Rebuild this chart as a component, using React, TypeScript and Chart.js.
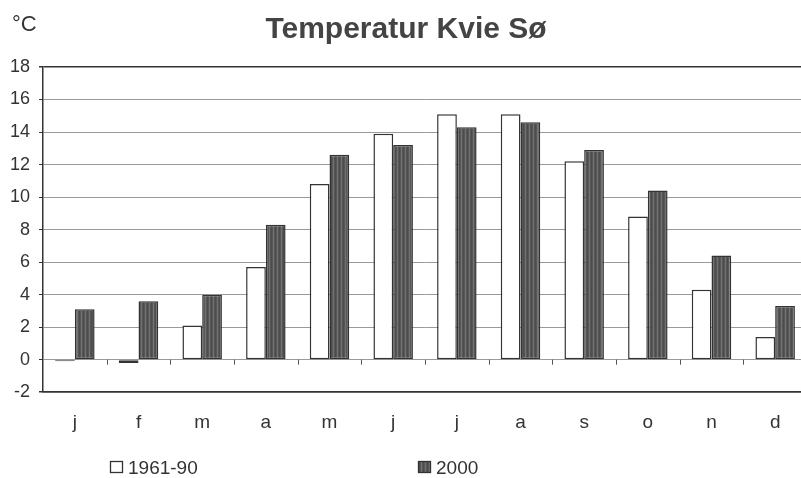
import React, { useEffect, useRef } from "react";
import { Chart, registerables } from "chart.js";

Chart.register(...registerables);

// ---- data ----
const months = ["j", "f", "m", "a", "m", "j", "j", "a", "s", "o", "n", "d"];
const normal1961_90 = [-0.1, -0.2, 2.1, 5.7, 10.8, 13.9, 15.1, 15.1, 12.2, 8.8, 4.3, 1.4];
const year2000 = [3.1, 3.6, 4.0, 8.3, 12.6, 13.2, 14.3, 14.6, 12.9, 10.4, 6.4, 3.3];
const seriesLabels = ["1961-90", "2000"];
const yMin = -2;
const yMax = 18;
const yStep = 2;
const titleText = "Temperatur Kvie Sø";
const unitText = "°C";

const FONT = "'Liberation Sans', Arial, Helvetica, sans-serif";
const DARK = "#333333";

function makeStripe(): CanvasPattern | string {
  const c = document.createElement("canvas");
  c.width = 4;
  c.height = 2;
  const g = c.getContext("2d");
  if (!g) return "#5a5a5a";
  g.fillStyle = "#575757";
  g.fillRect(0, 0, 4, 2);
  g.fillStyle = "#727272";
  g.fillRect(1, 0, 1, 2);
  g.fillStyle = "#4c4c4c";
  g.fillRect(3, 0, 1, 2);
  return g.createPattern(c, "repeat") || "#5a5a5a";
}

const decorPlugin = {
  id: "decor",
  afterDatasetsDraw(chart: any) {
    const ctx = chart.ctx as CanvasRenderingContext2D;
    const xs = chart.scales.x;
    const ys = chart.scales.y;
    const y0 = ys.getPixelForValue(0);
    const n = chart.data.labels.length;
    const step = xs.getPixelForTick(1) - xs.getPixelForTick(0);
    ctx.save();
    ctx.strokeStyle = "#555555";
    ctx.lineWidth = 1;
    for (let i = 1; i < n; i++) {
      const x = Math.round(xs.getPixelForTick(i) - step / 2) + 0.5;
      ctx.beginPath();
      ctx.moveTo(x, y0);
      ctx.lineTo(x, y0 + 5);
      ctx.stroke();
    }
    ctx.restore();
  },
  afterDraw(chart: any, _args: any, opts: any) {
    const ctx = chart.ctx as CanvasRenderingContext2D;
    ctx.save();
    // title
    ctx.fillStyle = "#444444";
    ctx.font = `bold 30px ${FONT}`;
    ctx.textAlign = "center";
    ctx.textBaseline = "alphabetic";
    ctx.fillText(opts.title, opts.titleX, opts.titleY);
    // unit
    ctx.fillStyle = DARK;
    ctx.font = `22px ${FONT}`;
    ctx.textAlign = "left";
    ctx.fillText(opts.unit, opts.unitX, opts.unitY);
    // legend
    ctx.font = `19px ${FONT}`;
    chart.data.datasets.forEach((ds: any, i: number) => {
      const x = opts.legendX[i];
      const y = opts.legendY;
      ctx.fillStyle = ds.backgroundColor;
      ctx.fillRect(x, y - 6, 13, 12);
      ctx.strokeStyle = DARK;
      ctx.lineWidth = 1.3;
      ctx.strokeRect(x + 0.5, y - 5.5, 12, 11);
      ctx.fillStyle = DARK;
      ctx.textBaseline = "alphabetic";
      ctx.fillText(ds.label, x + 18, y + 7);
    });
    ctx.restore();
  },
};

export default function App() {
  const ref = useRef<HTMLCanvasElement | null>(null);

  useEffect(() => {
    document.body.style.margin = "0";
    const canvas = ref.current;
    if (!canvas) return;
    const stripe = makeStripe();
    const chart = new Chart(canvas, {
      type: "bar",
      data: {
        labels: months,
        datasets: [
          {
            label: seriesLabels[0],
            data: normal1961_90,
            backgroundColor: "#ffffff",
            borderColor: DARK,
            borderWidth: 1.5,
            borderSkipped: false,
          },
          {
            label: seriesLabels[1],
            data: year2000,
            backgroundColor: stripe as any,
            borderColor: DARK,
            borderWidth: 1.5,
            borderSkipped: false,
          },
        ],
      },
      options: {
        animation: false,
        responsive: false,
        devicePixelRatio: 1,
        layout: { padding: { left: 1, right: 0, top: 67, bottom: 25 } },
        datasets: {
          bar: { categoryPercentage: 0.62, barPercentage: 1.0 },
        },
        plugins: {
          legend: { display: false },
          title: { display: false },
          tooltip: { enabled: false },
          decor: {
            title: titleText,
            titleX: 406,
            titleY: 38,
            unit: unitText,
            unitX: 12,
            unitY: 31,
            legendX: [110, 418],
            legendY: 467,
          },
        } as any,
        scales: {
          x: {
            grid: { display: false, drawTicks: false },
            border: { display: true, color: DARK, width: 1.5 },
            ticks: {
              color: DARK,
              padding: 19,
              font: { family: FONT, size: 19 },
            },
          },
          y: {
            min: yMin,
            max: yMax,
            ticks: {
              stepSize: yStep,
              color: DARK,
              padding: 9,
              font: { family: FONT, size: 18 },
            },
            grid: {
              color: (c: any) =>
                c.tick && (c.tick.value === yMax || c.tick.value === yMin) ? DARK : "#9a9a9a",
              lineWidth: (c: any) =>
                c.tick && (c.tick.value === yMax || c.tick.value === yMin) ? 1.5 : 1,
              tickLength: 4,
              tickColor: DARK,
            },
            border: { display: true, color: DARK, width: 1.5 },
          },
        },
      },
      plugins: [decorPlugin],
    });
    return () => chart.destroy();
  }, []);

  return (
    <div style={{ width: 801, height: 478, overflow: "hidden", background: "#fff" }}>
      <canvas ref={ref} width={807} height={478} style={{ display: "block" }} />
    </div>
  );
}
